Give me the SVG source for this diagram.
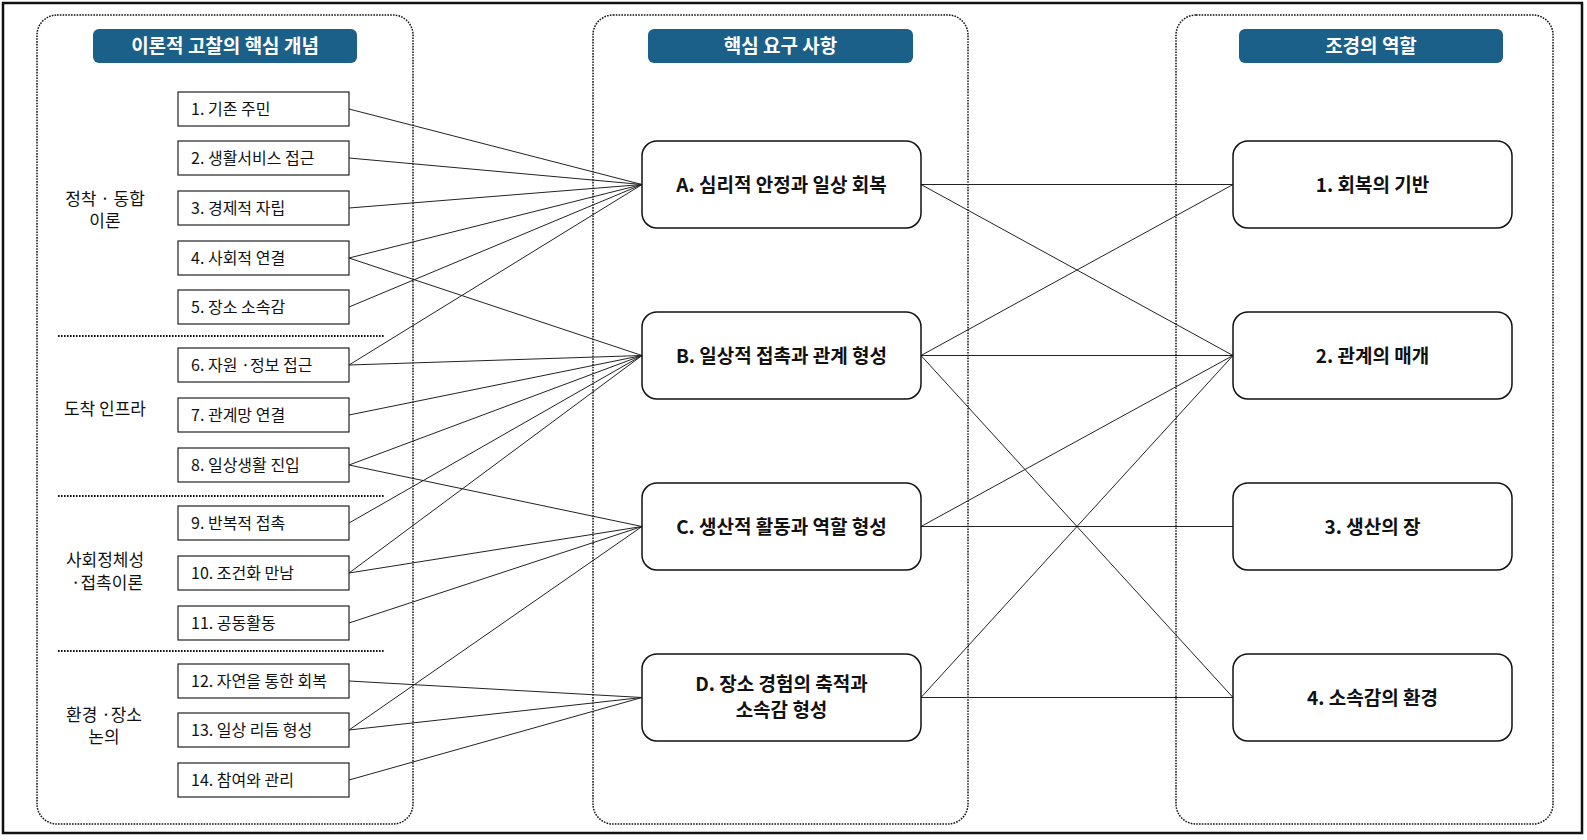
<svg xmlns="http://www.w3.org/2000/svg" width="1587" height="840" viewBox="0 0 1587 840">
<style>
.frame{fill:#fff;stroke:#111;stroke-width:2.5}
.cont{fill:none;stroke:#111;stroke-width:1.5;stroke-dasharray:1.6 1.2}
.sep{fill:none;stroke:#111;stroke-width:1.8;stroke-dasharray:1.6 1.4}
.hdr{fill:#1b6088}
.hdrt{fill:#fff;font-family:"Noto Sans CJK KR","Noto Sans",sans-serif;font-weight:700;font-size:19px;text-anchor:middle}
.lbox{fill:#fff;stroke:#222;stroke-width:1.2}
.lt{fill:#111;font-family:"Noto Sans CJK KR","Noto Sans",sans-serif;font-size:16px}
.grp{fill:#111;font-family:"Noto Sans CJK KR","Noto Sans",sans-serif;font-size:17px;text-anchor:middle}
.mbox{fill:#fff;stroke:#111;stroke-width:1.5}
.mt{fill:#111;font-family:"Noto Sans CJK KR","Noto Sans",sans-serif;font-weight:700;font-size:19px;text-anchor:middle}
.conn line{stroke:#222;stroke-width:1}
</style>
<rect class="frame" x="3" y="3" width="1579" height="830"/>

<g id="col-left">
<rect class="cont" x="37" y="15" width="376" height="809" rx="20"/>
<rect class="hdr" x="93" y="29" width="264" height="34" rx="6"/>
<text class="hdrt" x="225" y="53">이론적 고찰의 핵심 개념</text>
<line class="sep" x1="58" y1="336" x2="385" y2="336"/>
<line class="sep" x1="58" y1="496" x2="385" y2="496"/>
<line class="sep" x1="58" y1="651" x2="385" y2="651"/>
<text class="grp" x="105" y="205">정착 · 동합<tspan x="105" dy="22">이론</tspan></text>
<text class="grp" x="105" y="415">도착 인프라</text>
<text class="grp" x="105" y="566">사회정체성<tspan x="107" dy="23">·접촉이론</tspan></text>
<text class="grp" x="104" y="721">환경 ·장소<tspan x="104" dy="22">논의</tspan></text>
</g>

<g id="col-mid">
<rect class="cont" x="593" y="15" width="375" height="809" rx="20"/>
<rect class="hdr" x="648" y="29" width="265" height="34" rx="6"/>
<text class="hdrt" x="780.5" y="53">핵심 요구 사항</text>
</g>

<g id="col-right">
<rect class="cont" x="1176" y="15" width="377" height="809" rx="20"/>
<rect class="hdr" x="1239" y="29" width="264" height="34" rx="6"/>
<text class="hdrt" x="1371" y="53">조경의 역할</text>
</g>

<g id="connectors" class="conn">
<line x1="349" y1="109" x2="642" y2="184.5"/>
<line x1="349" y1="158" x2="642" y2="184.5"/>
<line x1="349" y1="208" x2="642" y2="184.5"/>
<line x1="349" y1="258" x2="642" y2="184.5"/>
<line x1="349" y1="307" x2="642" y2="184.5"/>
<line x1="349" y1="365" x2="642" y2="184.5"/>
<line x1="349" y1="258" x2="642" y2="355.5"/>
<line x1="349" y1="365" x2="642" y2="355.5"/>
<line x1="349" y1="415" x2="642" y2="355.5"/>
<line x1="349" y1="465" x2="642" y2="355.5"/>
<line x1="349" y1="523" x2="642" y2="355.5"/>
<line x1="349" y1="573" x2="642" y2="355.5"/>
<line x1="349" y1="465" x2="642" y2="526.5"/>
<line x1="349" y1="573" x2="642" y2="526.5"/>
<line x1="349" y1="623" x2="642" y2="526.5"/>
<line x1="349" y1="730" x2="642" y2="526.5"/>
<line x1="349" y1="681" x2="642" y2="697.5"/>
<line x1="349" y1="730" x2="642" y2="697.5"/>
<line x1="349" y1="780" x2="642" y2="697.5"/>
<line x1="921" y1="184.5" x2="1233" y2="184.5"/>
<line x1="921" y1="184.5" x2="1233" y2="355.5"/>
<line x1="921" y1="355.5" x2="1233" y2="184.5"/>
<line x1="921" y1="355.5" x2="1233" y2="355.5"/>
<line x1="921" y1="355.5" x2="1233" y2="697.5"/>
<line x1="921" y1="526.5" x2="1233" y2="355.5"/>
<line x1="921" y1="526.5" x2="1233" y2="526.5"/>
<line x1="921" y1="697.5" x2="1233" y2="355.5"/>
<line x1="921" y1="697.5" x2="1233" y2="697.5"/>
</g>

<g id="n1"><rect class="lbox" x="178" y="92" width="171" height="34"/><text class="lt" x="191" y="115">1. 기존 주민</text></g>
<g id="n2"><rect class="lbox" x="178" y="141" width="171" height="34"/><text class="lt" x="191" y="164">2. 생활서비스 접근</text></g>
<g id="n3"><rect class="lbox" x="178" y="191" width="171" height="34"/><text class="lt" x="191" y="214">3. 경제적 자립</text></g>
<g id="n4"><rect class="lbox" x="178" y="241" width="171" height="34"/><text class="lt" x="191" y="264">4. 사회적 연결</text></g>
<g id="n5"><rect class="lbox" x="178" y="290" width="171" height="34"/><text class="lt" x="191" y="313">5. 장소 소속감</text></g>
<g id="n6"><rect class="lbox" x="178" y="348" width="171" height="34"/><text class="lt" x="191" y="371">6. 자원 ·정보 접근</text></g>
<g id="n7"><rect class="lbox" x="178" y="398" width="171" height="34"/><text class="lt" x="191" y="421">7. 관계망 연결</text></g>
<g id="n8"><rect class="lbox" x="178" y="448" width="171" height="34"/><text class="lt" x="191" y="471">8. 일상생활 진입</text></g>
<g id="n9"><rect class="lbox" x="178" y="506" width="171" height="34"/><text class="lt" x="191" y="529">9. 반복적 접촉</text></g>
<g id="n10"><rect class="lbox" x="178" y="556" width="171" height="34"/><text class="lt" x="191" y="579">10. 조건화 만남</text></g>
<g id="n11"><rect class="lbox" x="178" y="606" width="171" height="34"/><text class="lt" x="191" y="629">11. 공동활동</text></g>
<g id="n12"><rect class="lbox" x="178" y="664" width="171" height="34"/><text class="lt" x="191" y="687">12. 자연을 통한 회복</text></g>
<g id="n13"><rect class="lbox" x="178" y="713" width="171" height="34"/><text class="lt" x="191" y="736">13. 일상 리듬 형성</text></g>
<g id="n14"><rect class="lbox" x="178" y="763" width="171" height="34"/><text class="lt" x="191" y="786">14. 참여와 관리</text></g>

<g id="nA"><rect class="mbox" x="642" y="141" width="279" height="87" rx="15"/><text class="mt" x="781.5" y="191.5">A. 심리적 안정과 일상 회복</text></g>
<g id="nB"><rect class="mbox" x="642" y="312" width="279" height="87" rx="15"/><text class="mt" x="781.5" y="362.5">B. 일상적 접촉과 관계 형성</text></g>
<g id="nC"><rect class="mbox" x="642" y="483" width="279" height="87" rx="15"/><text class="mt" x="781.5" y="533.5">C. 생산적 활동과 역할 형성</text></g>
<g id="nD"><rect class="mbox" x="642" y="654" width="279" height="87" rx="15"/><text class="mt" x="781.5" y="691">D. 장소 경험의 축적과<tspan x="781.5" dy="25.5">소속감 형성</tspan></text></g>

<g id="r1"><rect class="mbox" x="1233" y="141" width="279" height="87" rx="15"/><text class="mt" x="1372.5" y="191.5">1. 회복의 기반</text></g>
<g id="r2"><rect class="mbox" x="1233" y="312" width="279" height="87" rx="15"/><text class="mt" x="1372.5" y="362.5">2. 관계의 매개</text></g>
<g id="r3"><rect class="mbox" x="1233" y="483" width="279" height="87" rx="15"/><text class="mt" x="1372.5" y="533.5">3. 생산의 장</text></g>
<g id="r4"><rect class="mbox" x="1233" y="654" width="279" height="87" rx="15"/><text class="mt" x="1372.5" y="704.5">4. 소속감의 환경</text></g>
</svg>
